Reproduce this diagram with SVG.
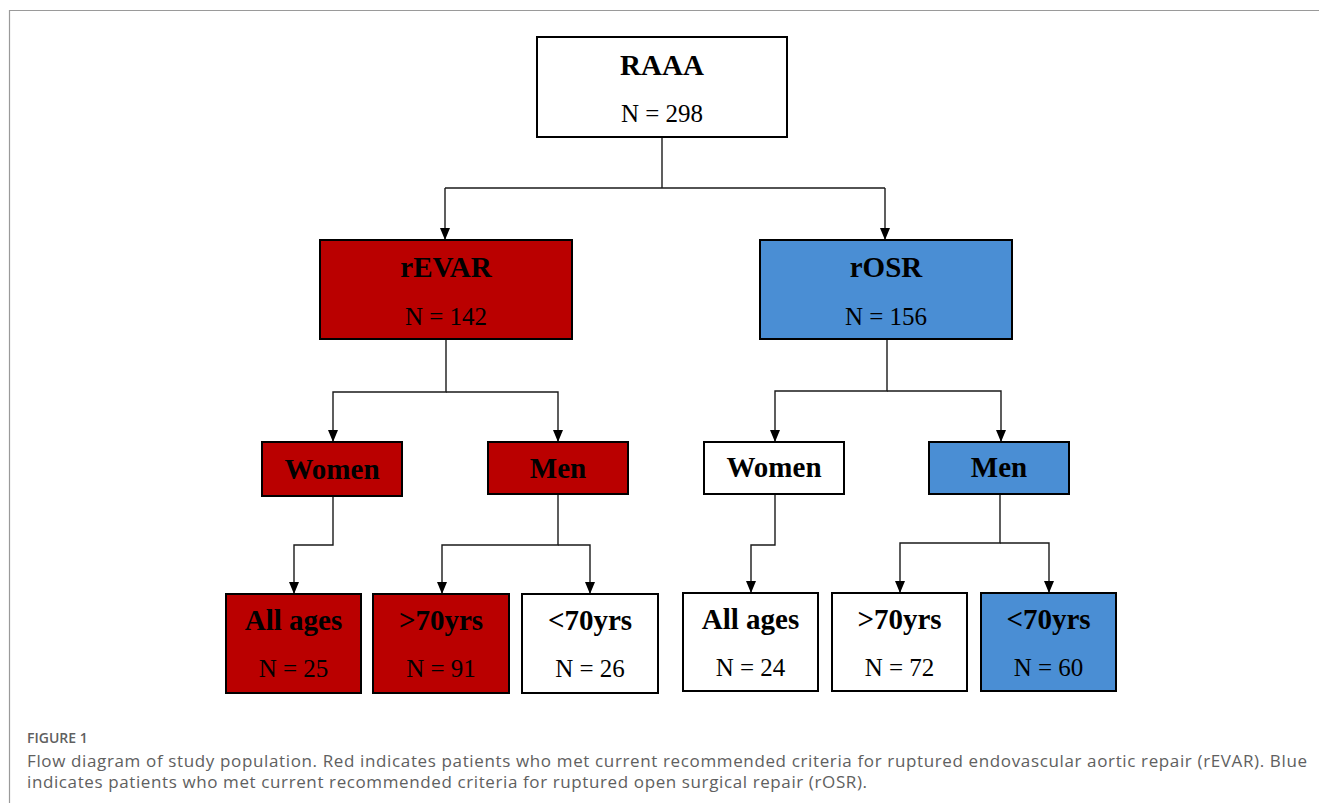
<svg xmlns="http://www.w3.org/2000/svg" width="1319" height="803" viewBox="0 0 1319 803">
<style>
.box{stroke:#000;stroke-width:2}
.w{fill:#fff}
.r{fill:#BA0000}
.b{fill:#4A8ED4}
.t{font-family:"Liberation Serif","Times New Roman",serif;font-weight:bold;font-size:29px;fill:#000;text-anchor:middle}
.n{font-family:"Liberation Serif","Times New Roman",serif;font-size:25px;fill:#000;text-anchor:middle}
.c{fill:none;stroke:#1a1a1a;stroke-width:1.4}
.cap{font-family:"Open Sans","Noto Sans",sans-serif;fill:#606060}
</style>
<defs>
<marker id="ah" viewBox="0 0 12 10" refX="12" refY="5" markerWidth="12" markerHeight="10" markerUnits="userSpaceOnUse" orient="auto">
<path d="M0,0 L12,5 L0,10 Z" fill="#000"/>
</marker>
</defs>
<rect width="1319" height="803" fill="#fff"/>
<path d="M9.5,803 V10.5 H1319" fill="none" stroke="#9a9a9a" stroke-width="1.2"/>

<g id="connectors">
<path class="c" d="M662,137 V188"/>
<path class="c" d="M445,188 H885"/>
<path class="c" d="M445,188 V240" marker-end="url(#ah)"/>
<path class="c" d="M885,188 V240" marker-end="url(#ah)"/>
<path class="c" d="M446,339 V392 H333 V442" marker-end="url(#ah)"/>
<path class="c" d="M446,392 H558 V442" marker-end="url(#ah)"/>
<path class="c" d="M887,339 V391 H775 V442" marker-end="url(#ah)"/>
<path class="c" d="M887,391 H1001 V442" marker-end="url(#ah)"/>
<path class="c" d="M333,496 V545 H294 V594" marker-end="url(#ah)"/>
<path class="c" d="M558,494 V545 H442 V594" marker-end="url(#ah)"/>
<path class="c" d="M558,545 H590 V594" marker-end="url(#ah)"/>
<path class="c" d="M775,494 V545 H751 V593" marker-end="url(#ah)"/>
<path class="c" d="M1000,494 V543 H900 V593" marker-end="url(#ah)"/>
<path class="c" d="M1000,543 H1049 V593" marker-end="url(#ah)"/>
</g>

<g id="raaa"><rect class="box w" x="537" y="37" width="250" height="100"/><text class="t" x="662" y="75">RAAA</text><text class="n" x="662" y="122">N = 298</text></g>
<g id="revar"><rect class="box r" x="320" y="240" width="252" height="99"/><text class="t" x="446" y="277">rEVAR</text><text class="n" x="446" y="325">N = 142</text></g>
<g id="rosr"><rect class="box b" x="760" y="240" width="252" height="99"/><text class="t" x="886" y="277">rOSR</text><text class="n" x="886" y="325">N = 156</text></g>

<g id="evar-women"><rect class="box r" x="262" y="442" width="140" height="54"/><text class="t" x="332" y="479">Women</text></g>
<g id="evar-men"><rect class="box r" x="488" y="442" width="140" height="52"/><text class="t" x="558" y="478">Men</text></g>
<g id="osr-women"><rect class="box w" x="704" y="442" width="140" height="52"/><text class="t" x="774" y="477">Women</text></g>
<g id="osr-men"><rect class="box b" x="929" y="442" width="140" height="52"/><text class="t" x="999" y="477">Men</text></g>

<g id="evar-women-all"><rect class="box r" x="226" y="594" width="135" height="99"/><text class="t" x="293.5" y="630">All ages</text><text class="n" x="293.5" y="677">N = 25</text></g>
<g id="evar-men-gt70"><rect class="box r" x="373" y="594" width="136" height="99"/><text class="t" x="441" y="630">&gt;70yrs</text><text class="n" x="441" y="677">N = 91</text></g>
<g id="evar-men-lt70"><rect class="box w" x="522" y="594" width="136" height="99"/><text class="t" x="590" y="630">&lt;70yrs</text><text class="n" x="590" y="677">N = 26</text></g>
<g id="osr-women-all"><rect class="box w" x="683" y="593" width="135" height="98"/><text class="t" x="750.5" y="629">All ages</text><text class="n" x="750.5" y="676">N = 24</text></g>
<g id="osr-men-gt70"><rect class="box w" x="832" y="593" width="135" height="98"/><text class="t" x="899.5" y="629">&gt;70yrs</text><text class="n" x="899.5" y="676">N = 72</text></g>
<g id="osr-men-lt70"><rect class="box b" x="981" y="593" width="135" height="98"/><text class="t" x="1048.5" y="629">&lt;70yrs</text><text class="n" x="1048.5" y="676">N = 60</text></g>

<g id="caption">
<text class="cap" x="27" y="743" font-size="14" font-weight="600">FIGURE 1</text>
<text class="cap" x="27" y="767" font-size="17" textLength="1280" lengthAdjust="spacing">Flow diagram of study population. Red indicates patients who met current recommended criteria for ruptured endovascular aortic repair (rEVAR). Blue</text>
<text class="cap" x="27" y="788" font-size="17" textLength="840" lengthAdjust="spacing">indicates patients who met current recommended criteria for ruptured open surgical repair (rOSR).</text>
</g>
</svg>
